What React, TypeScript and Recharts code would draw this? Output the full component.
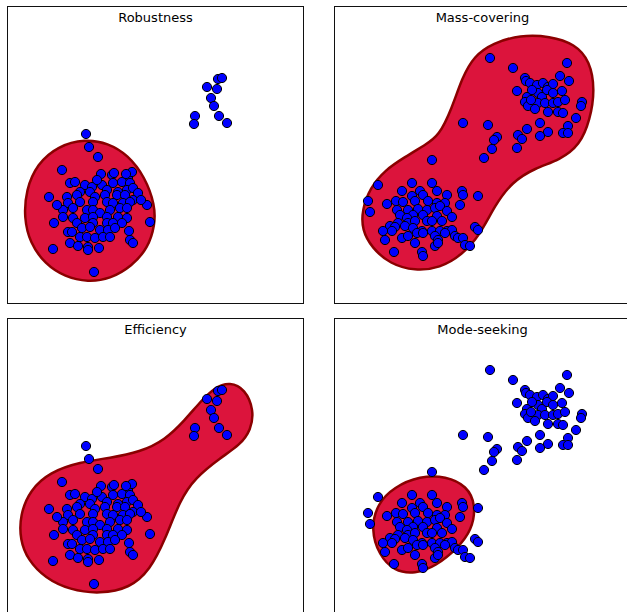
import React from 'react';
import { ScatterChart, Scatter, XAxis, YAxis } from 'recharts';

// points; x/y in plot units (panel is 29.7 x 29.8)
const pointsOneMode = [
  { x: 7.9, y: 17.0 }, { x: 8.2, y: 15.7 }, { x: 9.1, y: 14.7 }, { x: 5.5, y: 13.4 },
  { x: 4.2, y: 10.7 }, { x: 14.0, y: 9.9 }, { x: 4.7, y: 8.1 }, { x: 14.3, y: 8.2 },
  { x: 4.6, y: 5.5 }, { x: 8.7, y: 3.2 }, { x: 12.1, y: 12.6 },
  { x: 9.4, y: 13.0 }, { x: 10.5, y: 12.9 }, { x: 10.7, y: 13.1 }, { x: 12.5, y: 13.2 },
  { x: 6.3, y: 12.1 }, { x: 6.8, y: 12.2 }, { x: 7.8, y: 11.9 }, { x: 8.5, y: 11.7 },
  { x: 9.5, y: 11.9 }, { x: 10.6, y: 12.1 }, { x: 11.5, y: 12.2 }, { x: 12.3, y: 12.1 },
  { x: 7.3, y: 11.2 }, { x: 8.3, y: 11.2 }, { x: 10.0, y: 11.4 }, { x: 11.1, y: 11.2 },
  { x: 12.0, y: 11.4 }, { x: 12.6, y: 11.6 }, { x: 13.1, y: 11.1 },
  { x: 6.0, y: 10.7 }, { x: 7.0, y: 10.9 }, { x: 8.8, y: 10.7 }, { x: 9.8, y: 10.9 },
  { x: 11.0, y: 10.9 }, { x: 11.8, y: 10.9 }, { x: 12.6, y: 10.4 },
  { x: 6.1, y: 10.1 }, { x: 7.3, y: 10.2 }, { x: 8.6, y: 10.2 }, { x: 10.0, y: 10.2 },
  { x: 10.6, y: 10.1 }, { x: 11.6, y: 10.1 }, { x: 12.3, y: 10.2 },
  { x: 5.6, y: 9.4 }, { x: 6.6, y: 9.6 }, { x: 8.0, y: 9.4 }, { x: 8.6, y: 9.4 },
  { x: 9.3, y: 9.1 }, { x: 10.3, y: 9.4 }, { x: 11.3, y: 9.6 }, { x: 12.0, y: 9.6 },
  { x: 5.6, y: 8.7 }, { x: 6.6, y: 8.6 }, { x: 7.8, y: 8.6 }, { x: 8.6, y: 8.7 },
  { x: 10.0, y: 8.7 }, { x: 11.1, y: 8.7 }, { x: 12.0, y: 8.6 },
  { x: 7.0, y: 8.1 }, { x: 8.6, y: 8.1 }, { x: 10.0, y: 8.1 }, { x: 10.6, y: 8.1 }, { x: 11.5, y: 8.1 },
  { x: 6.1, y: 7.2 }, { x: 6.5, y: 7.2 }, { x: 7.5, y: 7.6 }, { x: 8.3, y: 7.7 },
  { x: 9.3, y: 7.4 }, { x: 10.1, y: 7.4 }, { x: 10.8, y: 7.6 }, { x: 12.2, y: 7.3 },
  { x: 7.3, y: 6.7 }, { x: 8.0, y: 6.7 }, { x: 8.8, y: 6.6 }, { x: 9.6, y: 6.7 },
  { x: 10.3, y: 6.7 }, { x: 12.3, y: 6.4 }, { x: 12.6, y: 6.1 },
  { x: 6.3, y: 6.1 }, { x: 7.1, y: 5.8 }, { x: 8.1, y: 5.7 }, { x: 9.2, y: 5.6 }, { x: 8.1, y: 5.4 },
  { x: 9.0, y: 12.4 }, { x: 11.9, y: 13.0 }, { x: 13.4, y: 10.4 }, { x: 5.0, y: 9.9 },
  // outliers up top
  { x: 21.1, y: 22.5 }, { x: 21.5, y: 22.6 }, { x: 20.0, y: 21.7 }, { x: 21.0, y: 21.5 },
  { x: 20.4, y: 20.6 }, { x: 20.7, y: 19.8 }, { x: 18.8, y: 18.8 }, { x: 18.7, y: 18.0 },
  { x: 21.2, y: 18.8 }, { x: 22.0, y: 18.1 },
];

const pointsTwoModes = [
  { x: 7.8, y: 12.1 }, { x: 9.8, y: 12.1 }, { x: 4.4, y: 11.9 }, { x: 6.8, y: 11.3 },
  { x: 8.6, y: 11.3 }, { x: 8.9, y: 10.9 }, { x: 10.3, y: 11.3 }, { x: 11.3, y: 10.9 },
  { x: 12.8, y: 11.3 }, { x: 12.9, y: 10.9 }, { x: 5.3, y: 10.0 }, { x: 6.2, y: 10.3 },
  { x: 6.9, y: 10.2 }, { x: 7.8, y: 10.8 }, { x: 8.1, y: 10.3 }, { x: 9.4, y: 10.3 },
  { x: 10.3, y: 10.1 }, { x: 11.1, y: 10.1 }, { x: 12.6, y: 9.9 }, { x: 14.4, y: 10.8 },
  { x: 6.3, y: 9.4 }, { x: 7.4, y: 9.4 }, { x: 8.4, y: 9.5 }, { x: 9.3, y: 9.4 },
  { x: 10.1, y: 9.6 }, { x: 10.6, y: 9.8 }, { x: 11.3, y: 9.3 }, { x: 6.6, y: 8.9 },
  { x: 7.9, y: 8.9 }, { x: 8.9, y: 8.9 }, { x: 10.3, y: 8.8 }, { x: 11.8, y: 8.7 },
  { x: 7.3, y: 8.6 }, { x: 6.4, y: 8.1 }, { x: 7.4, y: 8.1 }, { x: 8.1, y: 8.3 },
  { x: 9.3, y: 8.3 }, { x: 9.8, y: 8.3 }, { x: 10.8, y: 8.3 }, { x: 5.6, y: 7.8 },
  { x: 6.1, y: 7.7 }, { x: 7.1, y: 7.8 }, { x: 7.9, y: 7.6 }, { x: 8.8, y: 7.3 },
  { x: 9.8, y: 7.3 }, { x: 10.6, y: 7.3 }, { x: 11.3, y: 7.3 }, { x: 11.8, y: 7.4 },
  { x: 14.1, y: 7.7 }, { x: 14.4, y: 7.4 }, { x: 4.9, y: 7.3 }, { x: 5.8, y: 7.3 },
  { x: 5.1, y: 6.4 }, { x: 6.8, y: 6.6 }, { x: 7.4, y: 6.8 }, { x: 8.3, y: 7.1 },
  { x: 8.9, y: 7.1 }, { x: 10.1, y: 6.8 }, { x: 10.4, y: 6.4 }, { x: 11.1, y: 7.1 },
  { x: 12.1, y: 6.8 }, { x: 12.4, y: 6.6 }, { x: 12.9, y: 6.6 }, { x: 8.1, y: 6.1 },
  { x: 10.1, y: 5.8 }, { x: 10.4, y: 6.1 }, { x: 13.1, y: 5.9 }, { x: 13.6, y: 5.8 },
  { x: 6.0, y: 5.2 }, { x: 8.8, y: 5.2 }, { x: 8.9, y: 4.8 }, { x: 3.4, y: 10.3 },
  { x: 3.6, y: 9.2 }, { x: 9.8, y: 14.4 },
  // second mode
  { x: 15.6, y: 24.6 }, { x: 17.9, y: 23.6 }, { x: 23.3, y: 24.1 }, { x: 22.6, y: 22.8 },
  { x: 23.5, y: 22.3 }, { x: 19.1, y: 22.6 }, { x: 19.2, y: 22.3 }, { x: 19.6, y: 22.1 },
  { x: 20.3, y: 21.9 }, { x: 20.9, y: 22.1 }, { x: 21.4, y: 21.7 }, { x: 21.9, y: 22.0 },
  { x: 18.3, y: 21.3 }, { x: 19.3, y: 20.7 }, { x: 19.1, y: 20.2 }, { x: 19.4, y: 19.8 },
  { x: 20.4, y: 21.1 }, { x: 20.8, y: 20.7 }, { x: 21.3, y: 21.4 }, { x: 21.9, y: 21.1 },
  { x: 22.8, y: 21.3 }, { x: 20.4, y: 20.1 }, { x: 21.1, y: 20.1 }, { x: 21.9, y: 20.1 },
  { x: 22.4, y: 20.2 }, { x: 23.1, y: 20.4 }, { x: 20.1, y: 19.5 }, { x: 21.4, y: 19.2 },
  { x: 22.4, y: 19.2 }, { x: 22.9, y: 19.1 }, { x: 24.8, y: 20.2 }, { x: 24.7, y: 19.8 },
  { x: 24.2, y: 18.6 }, { x: 20.6, y: 18.1 }, { x: 21.4, y: 17.2 }, { x: 20.6, y: 16.8 },
  { x: 19.3, y: 17.5 }, { x: 18.4, y: 16.9 }, { x: 18.8, y: 16.5 }, { x: 18.3, y: 15.6 },
  { x: 23.4, y: 17.8 }, { x: 22.9, y: 17.1 }, { x: 23.4, y: 17.1 }, { x: 12.9, y: 18.1 },
  { x: 15.4, y: 17.9 }, { x: 16.3, y: 16.7 }, { x: 16.0, y: 16.4 }, { x: 15.8, y: 15.5 },
  { x: 15.0, y: 14.6 }, { x: 19.8, y: 21.4 }, { x: 19.7, y: 20.4 },
];

// outlines of the fitted densities (control points of a closed spline)
const robustnessBlob = [
  { x: 7.8, y: 16.5 }, { x: 10.1, y: 16.1 }, { x: 12.1, y: 14.9 }, { x: 13.8, y: 12.7 },
  { x: 14.8, y: 9.9 }, { x: 14.8, y: 7.9 }, { x: 14.1, y: 5.6 }, { x: 12.5, y: 3.8 },
  { x: 10.3, y: 2.5 }, { x: 8.1, y: 2.2 }, { x: 5.8, y: 2.7 }, { x: 3.8, y: 4.0 },
  { x: 2.3, y: 6.1 }, { x: 1.7, y: 8.6 }, { x: 1.9, y: 11.4 }, { x: 3.0, y: 14.0 },
  { x: 5.1, y: 15.8 },
];

const massCoveringBlob = [
  { x: 2.8, y: 9.4 }, { x: 3.6, y: 11.6 }, { x: 5.1, y: 13.4 }, { x: 7.1, y: 14.7 },
  { x: 9.1, y: 15.9 }, { x: 10.5, y: 16.8 }, { x: 11.8, y: 19.6 }, { x: 12.8, y: 22.6 },
  { x: 14.0, y: 24.8 }, { x: 15.9, y: 26.1 }, { x: 18.6, y: 26.9 }, { x: 21.6, y: 26.8 },
  { x: 24.1, y: 26.0 }, { x: 25.6, y: 24.3 }, { x: 26.1, y: 21.4 }, { x: 25.6, y: 18.4 },
  { x: 24.6, y: 15.9 }, { x: 22.6, y: 14.4 }, { x: 20.1, y: 13.6 }, { x: 17.8, y: 12.2 },
  { x: 16.1, y: 9.9 }, { x: 14.6, y: 6.9 }, { x: 12.8, y: 4.9 }, { x: 10.6, y: 3.6 },
  { x: 8.1, y: 3.3 }, { x: 5.6, y: 4.0 }, { x: 3.8, y: 5.6 }, { x: 2.8, y: 7.4 },
];

const efficiencyBlob = [
  { x: 1.3, y: 10.1 }, { x: 2.3, y: 12.6 }, { x: 4.3, y: 14.4 }, { x: 7.3, y: 15.4 },
  { x: 10.3, y: 15.8 }, { x: 13.3, y: 16.4 }, { x: 15.8, y: 17.6 }, { x: 17.8, y: 19.6 },
  { x: 19.3, y: 21.4 }, { x: 20.8, y: 22.9 }, { x: 22.3, y: 23.4 }, { x: 23.8, y: 22.7 },
  { x: 24.7, y: 20.6 }, { x: 24.4, y: 18.6 }, { x: 23.3, y: 17.1 }, { x: 21.3, y: 15.8 },
  { x: 18.8, y: 13.8 }, { x: 17.3, y: 11.6 }, { x: 15.8, y: 7.6 }, { x: 14.3, y: 4.6 },
  { x: 12.3, y: 2.8 }, { x: 9.3, y: 2.2 }, { x: 6.3, y: 2.6 }, { x: 3.8, y: 3.8 },
  { x: 2.1, y: 5.6 }, { x: 1.3, y: 7.6 },
];

const modeSeekingBlob = [
  { x: 3.7, y: 8.6 }, { x: 4.3, y: 11.2 }, { x: 6.0, y: 12.9 }, { x: 8.6, y: 14.0 },
  { x: 11.2, y: 14.0 }, { x: 13.3, y: 13.0 }, { x: 14.2, y: 11.1 }, { x: 13.8, y: 8.6 },
  { x: 12.3, y: 6.7 }, { x: 10.2, y: 5.0 }, { x: 8.1, y: 4.2 }, { x: 6.0, y: 4.5 },
  { x: 4.5, y: 6.1 },
];

const PANEL_W = 297;
const PANEL_H = 298;

const Dot = (props: any) => (
  <circle cx={props.cx} cy={props.cy} r={4.6} fill="#0000ff" stroke="#000" strokeWidth={1} />
);
const NoDot = () => <g />;

const Panel = ({ title, points, blob, left, top }: any) => (
  <>
    <div style={{ position: 'absolute', left, top, width: PANEL_W, height: PANEL_H }}>
      <ScatterChart width={PANEL_W} height={PANEL_H} margin={{ top: 0, right: 0, bottom: 0, left: 0 }}>
        <XAxis type="number" dataKey="x" domain={[0, 29.7]} hide />
        <YAxis type="number" dataKey="y" domain={[0, 29.8]} hide />
        <Scatter
          data={blob}
          shape={NoDot}
          line={{ fill: '#dc143c', stroke: '#8b0000', strokeWidth: 2.5 }}
          lineType="joint"
          lineJointType="basisClosed"
          isAnimationActive={false}
        />
        <Scatter data={points} shape={Dot} isAnimationActive={false} />
      </ScatterChart>
    </div>
    <div
      style={{
        position: 'absolute', left, top, width: PANEL_W, height: PANEL_H,
        border: '1px solid #111', boxSizing: 'border-box', pointerEvents: 'none',
      }}
    />
    <div
      style={{
        position: 'absolute', left, top: top + 4, width: PANEL_W, textAlign: 'center',
        fontFamily: '"DejaVu Sans", sans-serif', fontSize: 13, lineHeight: '16px', color: '#000',
      }}
    >
      {title}
    </div>
  </>
);

export default function App() {
  return (
    <div style={{ position: 'absolute', left: 0, top: 0, width: 627, height: 612, overflow: 'hidden', background: '#fff' }}>
      <Panel title="Robustness" points={pointsOneMode} blob={robustnessBlob} left={7} top={6} />
      <Panel title="Mass-covering" points={pointsTwoModes} blob={massCoveringBlob} left={334} top={6} />
      <Panel title="Efficiency" points={pointsOneMode} blob={efficiencyBlob} left={7} top={318} />
      <Panel title="Mode-seeking" points={pointsTwoModes} blob={modeSeekingBlob} left={334} top={318} />
    </div>
  );
}
